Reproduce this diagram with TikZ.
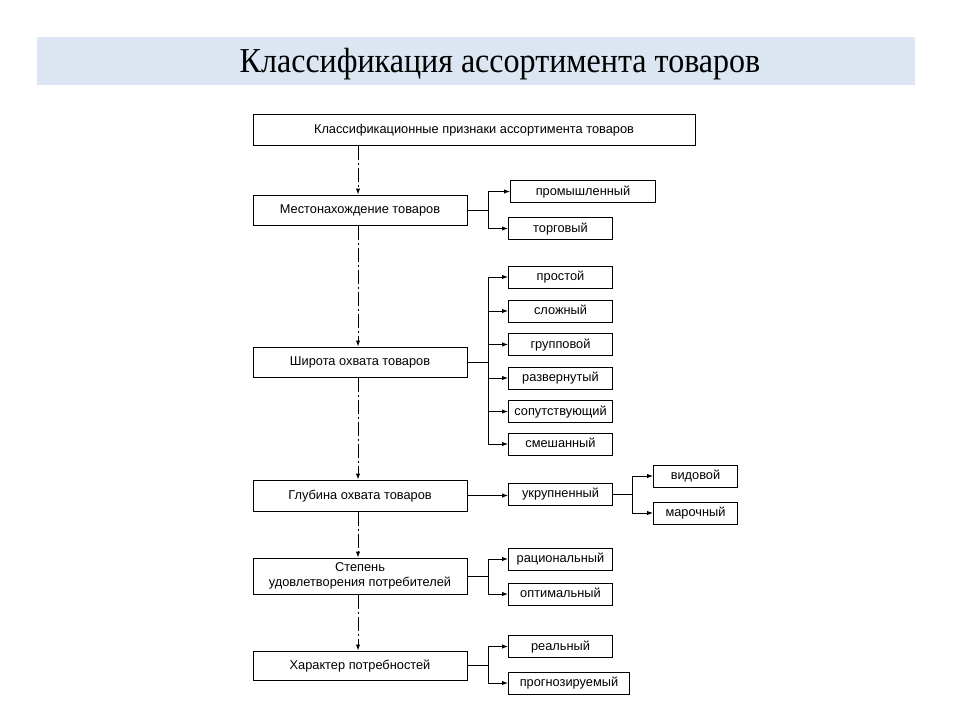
\documentclass[tikz,border=0pt]{standalone}
\usepackage{fontspec}
\setmainfont{Liberation Serif}
\newfontfamily\boxsans{Liberation Sans}
\usetikzlibrary{arrows.meta}
\definecolor{band}{HTML}{DCE6F2}
\begin{document}
\begin{tikzpicture}[x=1pt,y=-1pt,
  box/.style={draw=black, line width=1pt, inner sep=0pt, font=\boxsans\fontsize{12.8}{15}\selectfont, align=center},
  oneline/.style={text height=9pt, text depth=2pt},
  mainbox/.style={box, minimum width=214pt, minimum height=30pt},
  sub/.style={box, oneline, minimum width=104pt, minimum height=22pt, anchor=west},
  link/.style={line width=1pt},
  arr/.style={link, -{Latex[length=6pt,width=4.5pt]}},
  spine/.style={arr, dash pattern=on 14pt off 3pt on 2pt off 3pt}]
\useasboundingbox (0,0) rectangle (960,720);
\fill[band] (37,37) rectangle (915,85);
\node[font=\fontsize{35}{38}\selectfont, inner sep=0pt, xscale=0.915, transform shape] (title) at (500,64) {Классификация ассортимента товаров};

\node[box, oneline, minimum width=442pt, minimum height=31pt] (top) at (474,129.5) {Классификационные признаки ассортимента товаров};
\node[mainbox, oneline] (m1) at (360,210) {Местонахождение товаров};
\node[mainbox, oneline] (m2) at (360,362) {Широта охвата товаров};
\node[mainbox, oneline, minimum height=31pt] (m3) at (360,495.5) {Глубина охвата товаров};
\node[mainbox, minimum height=36pt] (m4) at (360,576) {Степень\\удовлетворения потребителей};
\node[mainbox, oneline, minimum height=29pt] (m5) at (360,665.5) {Характер потребностей};

\node[sub, minimum width=145pt] (c11) at (510,191.5) {промышленный};
\node[sub] (c12) at (508,228.5) {торговый};

\node[sub] (c21) at (508,277) {простой};
\node[sub] (c22) at (508,311) {сложный};
\node[sub] (c23) at (508,344.5) {групповой};
\node[sub] (c24) at (508,378) {развернутый};
\node[sub] (c25) at (508,411.5) {сопутствующий};
\node[sub] (c26) at (508,444) {смешанный};

\node[sub] (c31) at (508,494) {укрупненный};
\node[sub, minimum width=84pt] (d1) at (653,476) {видовой};
\node[sub, minimum width=84pt] (d2) at (653,513) {марочный};

\node[sub] (c41) at (508,559) {рациональный};
\node[sub] (c42) at (508,594) {оптимальный};

\node[sub] (c51) at (508,646.5) {реальный};
\node[sub, minimum width=121pt] (c52) at (508,683) {прогнозируемый};

\coordinate (sp) at (358,0);
\coordinate (b1) at (488,0);
\coordinate (b2) at (632,0);

\draw[spine] (top.south -| sp) -- (m1.north -| sp);
\draw[spine] (m1.south -| sp) -- (m2.north -| sp);
\draw[spine] (m2.south -| sp) -- (m3.north -| sp);
\draw[spine] (m3.south -| sp) -- (m4.north -| sp);
\draw[spine] (m4.south -| sp) -- (m5.north -| sp);

% m1
\draw[link] (m1.east) -- (m1.east -| b1);
\draw[link] (b1 |- c11.west) -- (b1 |- c12.west);
\draw[arr] (b1 |- c11.west) -- (c11.west);
\draw[arr] (b1 |- c12.west) -- (c12.west);

% m2
\draw[link] (m2.east) -- (m2.east -| b1);
\draw[link] (b1 |- c21.west) -- (b1 |- c26.west);
\foreach \c in {c21,c22,c23,c24,c25,c26}
  \draw[arr] (b1 |- \c.west) -- (\c.west);

% m3
\draw[arr] (m3.east) -- (m3.east -| c31.west);
\draw[link] (c31.east) -- (c31.east -| b2);
\draw[link] (b2 |- d1.west) -- (b2 |- d2.west);
\draw[arr] (b2 |- d1.west) -- (d1.west);
\draw[arr] (b2 |- d2.west) -- (d2.west);

% m4
\draw[link] (m4.east) -- (m4.east -| b1);
\draw[link] (b1 |- c41.west) -- (b1 |- c42.west);
\draw[arr] (b1 |- c41.west) -- (c41.west);
\draw[arr] (b1 |- c42.west) -- (c42.west);

% m5
\draw[link] (m5.east) -- (m5.east -| b1);
\draw[link] (b1 |- c51.west) -- (b1 |- c52.west);
\draw[arr] (b1 |- c51.west) -- (c51.west);
\draw[arr] (b1 |- c52.west) -- (c52.west);
\end{tikzpicture}
\end{document}
